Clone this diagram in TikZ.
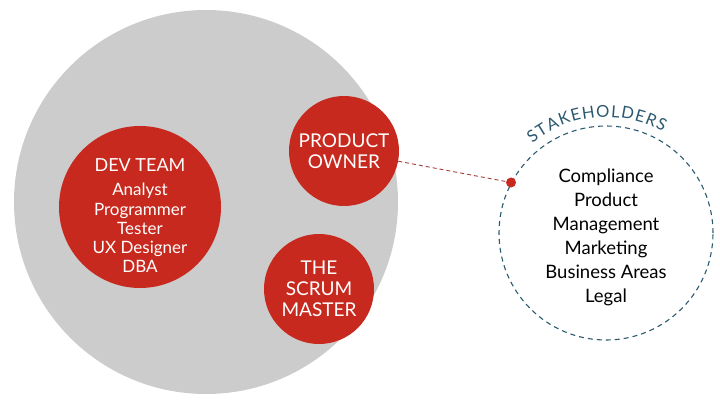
\documentclass[tikz,border=0pt]{standalone}
\usepackage{fontspec}
\setmainfont{Lato}
\usetikzlibrary{positioning,decorations.text}
\definecolor{scrumred}{RGB}{200,41,30}
\definecolor{linkred}{RGB}{165,62,58}
\definecolor{teamgray}{RGB}{204,204,204}
\definecolor{stakeblue}{RGB}{42,88,110}

\begin{document}
\begin{tikzpicture}[x=1pt,y=1pt,
  role/.style={circle,fill=scrumred,text=white,align=center,inner sep=0pt,minimum size=110pt,font=\fontsize{19}{21}\selectfont},
  stakes/.style={circle,draw=stakeblue,dash pattern=on 5pt off 4pt,line width=1.1pt,minimum size=214pt,align=center,font=\fontsize{18.5}{24}\selectfont}]
\useasboundingbox (0,0) rectangle (720,405);
\node (team) [circle,fill=teamgray,minimum size=384pt] at (206,203) {};
\node (dev) [role,minimum size=162pt,font=\fontsize{17}{19.2}\selectfont] at (140,198)
  {\\[11pt]{\fontsize{18}{20}\selectfont DEV TEAM}\\[5pt]Analyst\\Programmer\\Tester\\UX Designer\\DBA};
\node (po) [role] at (344,254) {PRODUCT\\OWNER};
\node (sm) [role] at (319,116) {THE\\SCRUM\\MASTER};
\node (stake) [stakes] at (606,172) {\\[-2pt]Compliance\\Product\\Management\\Marketing\\Business Areas\\Legal};
\node (hook) [circle,fill=scrumred,minimum size=10pt,inner sep=0pt] at (stake.152) {};
\draw[linkred,dash pattern=on 4pt off 3pt,line width=0.9pt] (po) -- (hook);
\path[decorate,decoration={text along path,text align=center,
  text={|\fontsize{16.5}{16.5}\selectfont\color{stakeblue}|S{\kern1.2pt}T{\kern1.2pt}A{\kern1.2pt}K{\kern1.2pt}E{\kern1.2pt}H{\kern1.2pt}O{\kern1.2pt}L{\kern1.2pt}D{\kern1.2pt}E{\kern1.2pt}R{\kern1.2pt}S}}]
  (stake.center) ++(134:116) arc (134:56:116);
\end{tikzpicture}
\end{document}
